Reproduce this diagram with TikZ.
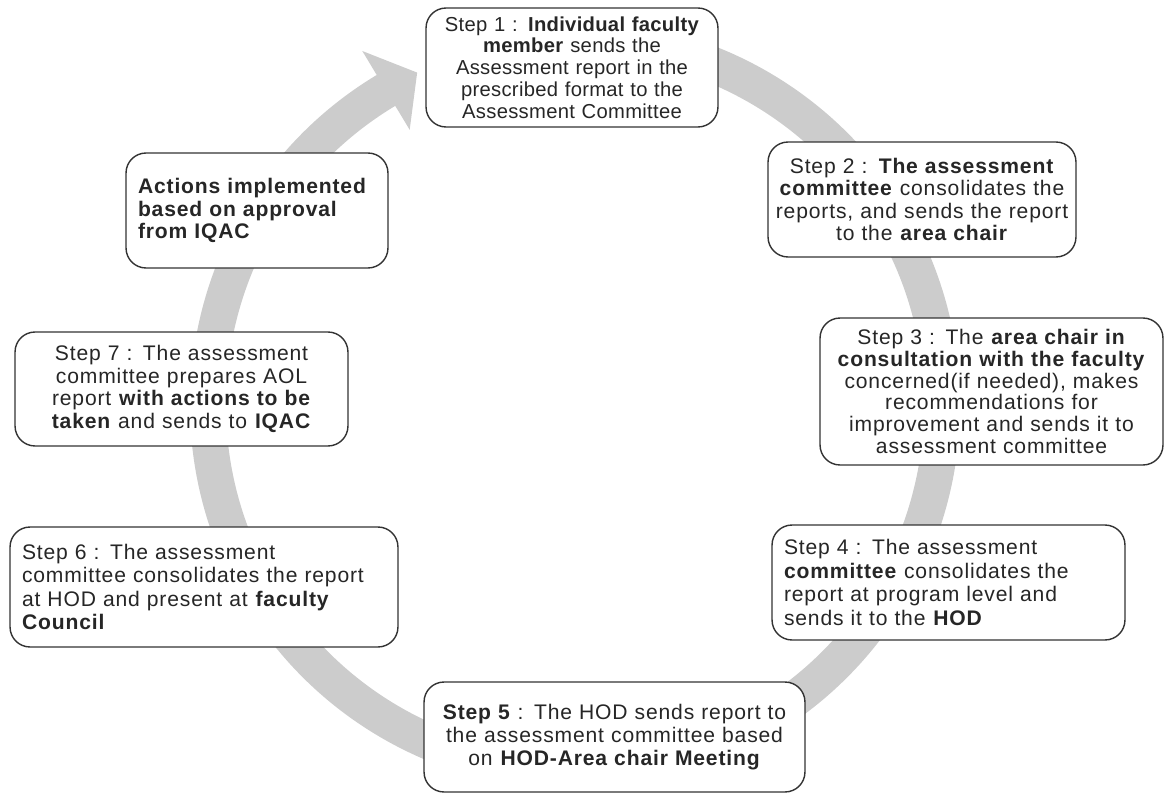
\documentclass[tikz,border=0pt]{standalone}
\usepackage{fontspec}
\setmainfont{Liberation Sans}[LetterSpace=4]
\newfontfamily\tightfont{Liberation Sans}[LetterSpace=1.5]

\tikzset{
  stepbox/.style={draw=black!80, line width=0.8pt, rounded corners=0.4cm,
    fill=white, text=black!85, inner xsep=0.24cm, inner ysep=0pt,
    font=\fontsize{12}{12.2}\selectfont},
  ringfill/.style={fill=black!20},
}

\begin{document}
\begin{tikzpicture}[x=0.02cm, y=-0.02cm]
    \useasboundingbox (0,0) rectangle (1166,797);
    % the grey cycle arrow
    \coordinate (c) at (575,405);
    \fill[ringfill] ([shift={(-108:385)}]c) arc[start angle=-108, end angle=239, radius=385]
      -- ([shift={(239:413)}]c) -- ([shift={(244.6:368)}]c) -- ([shift={(239:321)}]c)
      -- ([shift={(239:349)}]c) arc[start angle=239, end angle=-108, radius=349] -- cycle;
    % steps 1 to 3
    \node[stepbox, align=center, text width=5.36cm, minimum height=2.38cm,
      font=\tightfont\fontsize{11.5}{12.4}\selectfont] (s1) at (572,67.5)
      {Step 1 : \textbf{Individual faculty}\\ \textbf{member} sends the\\ Assessment report in the\\ prescribed format to the\\ Assessment Committee};
    \node[stepbox, align=center, inner xsep=0.1cm, text width=5.96cm, minimum height=2.30cm,
      font=\fontsize{12}{12.6}\selectfont] (s2) at (922,199.5)
      {Step 2 : \textbf{The assessment}\\ \textbf{committee} consolidates the\\ reports, and sends the report\\ to the \textbf{area chair}};
    \node[stepbox, align=center, text width=6.38cm, minimum height=2.94cm,
      font=\fontsize{12}{12.4}\selectfont] (s3) at (991.5,391.5)
      {Step 3 : The \textbf{area chair in}\\ \textbf{consultation with the faculty}\\ concerned(if needed), makes\\ recommendations for\\ improvement and sends it to\\ assessment committee};
    % steps 4 to 6
    \node[stepbox, align=left, text width=6.58cm, minimum height=2.30cm,
      font=\fontsize{12}{13.3}\selectfont] (s4) at (948.5,582.5)
      {Step 4 : The assessment\\ \textbf{committee} consolidates the\\ report at program level and\\ sends it to the \textbf{HOD}};
    \node[stepbox, align=center, text width=7.14cm, minimum height=2.20cm,
      font=\fontsize{12}{13.3}\selectfont] (s5) at (614.5,737)
      {\textbf{Step 5} : The HOD sends report to\\ the assessment committee based\\ on \textbf{HOD-Area chair Meeting}\\[0.25cm]};
    \node[stepbox, align=left, text width=7.28cm, minimum height=2.40cm,
      font=\fontsize{12}{13.3}\selectfont] (s6) at (204,587)
      {Step 6 : The assessment\\ committee consolidates the report\\ at HOD and present at \textbf{faculty}\\ \textbf{Council}};
    % step 7 and the outcome
    \node[stepbox, align=center, text width=6.18cm, minimum height=2.28cm,
      font=\fontsize{12}{12.8}\selectfont] (s7) at (181.5,389)
      {Step 7 : The assessment\\ committee prepares AOL\\ report \textbf{with actions to be}\\ \textbf{taken} and sends to \textbf{IQAC}};
    \node[stepbox, align=left, text width=4.76cm, minimum height=2.30cm,
      font=\fontsize{12}{12.8}\selectfont] (act) at (257,210.5)
      {\textbf{Actions implemented}\\ \textbf{based on approval}\\ \textbf{from IQAC}};
\end{tikzpicture}
\end{document}
